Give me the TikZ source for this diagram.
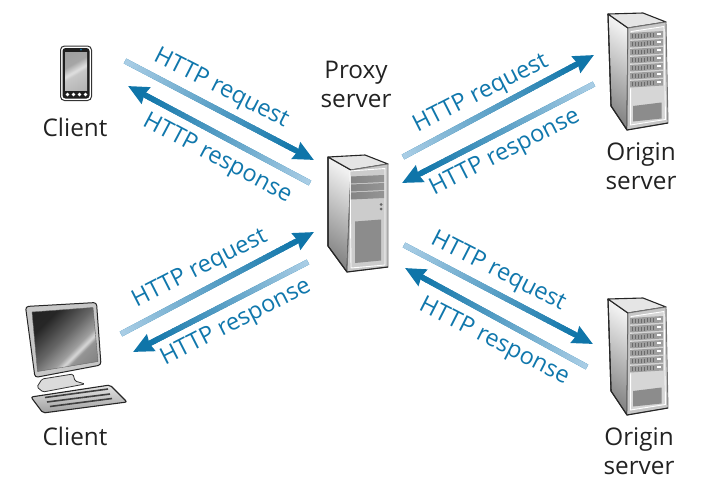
\documentclass[tikz,border=0pt]{standalone}
\usepackage{fontspec}
\setmainfont{Open Sans}
\usetikzlibrary{arrows.meta, calc}

\definecolor{flowlight}{HTML}{A9CDE5}
\definecolor{flowdark}{HTML}{0F75A9}
\definecolor{labelblue}{HTML}{1077AC}
\definecolor{textdark}{HTML}{222222}

\pgfdeclarehorizontalshading{screenglint}{100bp}{
  color(0bp)=(black!88); color(30bp)=(black!85); color(48bp)=(black!60);
  color(60bp)=(black!38); color(64bp)=(black!15); color(67bp)=(black!42); color(100bp)=(black!60)}
\pgfdeclarehorizontalshading{phoneglint}{100bp}{
  color(0bp)=(black!40); color(38bp)=(black!35); color(50bp)=(black!12);
  color(55bp)=(black!22); color(100bp)=(black!35)}

\tikzset{
  flow/.style={draw=flowdark, line width=5.5pt, -{Stealth[length=20pt, width=18pt, inset=1.5pt]}},
  flowlabel/.style={text=labelblue, font=\fontsize{23.5}{26}\selectfont, inner sep=0pt},
  hostlabel/.style={text=textdark, font=\fontsize{24.3}{29}\selectfont, align=center, inner sep=0pt},
  casing/.style={draw=black!85, line width=1.1pt, line join=round},
  sidepanel/.style={casing, left color=black!6, right color=black!48, shading angle=-35},
  toppanel/.style={casing, fill=black!10},
  frontpanel/.style={draw=black!55, line width=.9pt, line join=round, fill=black!22},
  bay/.style={left color=black!48, middle color=black!28, right color=black!42},
  % one origin server, drawn around its upper left corner
  pics/rack/.style={code={
    \path[sidepanel] (0,0) -- (20,14) -- (19,116) -- (3,92) -- cycle;
    \path[toppanel] (0,0) -- (35,-1) -- (58,8) -- (20,14) -- cycle;
    \path[frontpanel] (20,14) -- (58,8) -- (60,109) -- (19,116) -- cycle;
    \path[fill=black!16, draw=white, line width=.9pt] (23,17.5) -- (56,12.5) -- (57.5,105.5) -- (22.5,111) -- cycle;
    \foreach \r in {0,...,6} {
      \path[fill=black!38] (22,{19+\r*8}) -- (55,{17+\r*8}) -- (55,{23.5+\r*8}) -- (22,{25.5+\r*8}) -- cycle;
      \foreach \t in {24,27,...,46}
        \draw[black!58, line width=.5pt] (\t,{20.5+\r*8-(\t-22)*.06}) -- (\t,{24.5+\r*8-(\t-22)*.06});
      \path[fill=white] (49,{19+\r*8}) rectangle (53,{20.5+\r*8});
    }
    \path[fill=black!45] (25,92) -- (53.5,88.5) -- (53.5,104.5) -- (25,107.5) -- cycle;
    \draw[casing] (0,0) -- (3,92) -- (19,116) -- (60,109);
  }}
}

\newcommand{\flowline}[2]{
  \draw[flow] (#1) -- (#2);
  \foreach \i [evaluate=\i as \pct using {100-\i*2.5}] in {0,...,39}
    \draw[line width=5.5pt, draw=flowlight!\pct!flowdark]
      ($(#1)!{\i/40*0.9}!(#2)$) -- ($(#1)!{(\i+1.2)/40*0.9}!(#2)$);
}

\begin{document}
\begin{tikzpicture}[x=1pt, y=-1pt]
  \useasboundingbox (0,0) rectangle (701,490);

  % Phone
  \path[draw=black!80, line width=1pt, fill=white, rounded corners=4pt] (60.5,46) rectangle (91.5,100.5);
  \path[fill=black!88, rounded corners=3pt] (62.5,48) rectangle (89.5,98.5);
  \path[shading=phoneglint, shading angle=-60] (65,52) rectangle (87,90);
  \fill[flowdark] (81,49.5) circle (1pt);
  \foreach \k in {67.5,73.5,79.5,85.5}
    \fill[white] (\k,94.5) circle (1.8pt);

  % Desktop
  \path[draw=black!85, line width=1pt, fill=black!22, rounded corners=3pt] (25.5,306.5) -- (96.5,302.5) -- (101,365) -- (35,377.5) -- cycle;
  \path[shading=screenglint, shading angle=-45, draw=black!60] (32,312) -- (93,307.5) -- (98,361.5) -- (37.5,371.5) -- cycle;
  \path[draw=black!80, fill=black!14, line width=.8pt, rounded corners=1.5pt] (42,379) -- (73,374) -- (75,381) -- (85,384) -- (43,392) -- (37,387) -- cycle;
  \path[draw=black!85, line width=1.1pt, top color=black!10, bottom color=black!38, rounded corners=2pt] (31,397) -- (110,385) -- (127,402) -- (43,413) -- cycle;
  \draw[black!75, line width=1.6pt] (45,397.5) -- (108,389);
  \draw[black!75, line width=1.6pt] (47,402) -- (110,394);
  \draw[black!75, line width=1.6pt] (50,406.5) -- (112,398.5);

  % Proxy tower
  \path[sidepanel] (328,157) -- (351,170) -- (347,272) -- (328,246) -- cycle;
  \path[toppanel] (328,157) -- (365,155) -- (388,164) -- (351,170) -- cycle;
  \path[frontpanel] (351,170) -- (388,164) -- (388,267) -- (347,272) -- cycle;
  \path[fill=black!20, draw=white, line width=.9pt] (350,171) -- (385,168.5) -- (385,265) -- (351,268) -- cycle;
  \foreach \r in {0,...,2}
    \path[bay] (351,{176.5+\r*8}) -- (384,{175+\r*8}) -- (384,{182+\r*8}) -- (351,{183.5+\r*8}) -- cycle;
  \fill[black!60] (381,204.5) circle (1.5pt);
  \fill[black!60] (381,209) circle (1.5pt);
  \path[fill=black!45] (355,221.5) -- (381,219.5) -- (381,260.5) -- (355,263) -- cycle;
  \draw[casing] (328,157) -- (328,246) -- (347,272) -- (388,267);

  % Origin towers
  \pic at (608,14) {rack};
  \pic at (608,299) {rack};

  % Connector ends
  \coordinate (cpTail) at (125,61);
  \coordinate (cpTip) at (314,160);
  \coordinate (pcTail) at (310,183);
  \coordinate (pcTip) at (128,86);
  \coordinate (poTail) at (403,157);
  \coordinate (poTip) at (594,55);
  \coordinate (opTail) at (594,84);
  \coordinate (opTip) at (402,183);
  \coordinate (dpTail) at (121,334);
  \coordinate (dpTip) at (314,232);
  \coordinate (pdTail) at (308,262);
  \coordinate (pdTip) at (133,352);
  \coordinate (prTail) at (404,245);
  \coordinate (prTip) at (593,344);
  \coordinate (rpTail) at (587,367);
  \coordinate (rpTip) at (405,268);

  % Connectors
  \flowline{cpTail}{cpTip}
  \flowline{pcTail}{pcTip}
  \flowline{poTail}{poTip}
  \flowline{opTail}{opTip}
  \flowline{dpTail}{dpTip}
  \flowline{pdTail}{pdTip}
  \flowline{prTail}{prTip}
  \flowline{rpTail}{rpTip}

  % Flow labels
  \node[flowlabel, rotate=-27] (req1) at (221,89) {HTTP request};
  \node[flowlabel, rotate=-28] (resp1) at (217,159) {HTTP response};
  \node[flowlabel, rotate=27] (req2) at (481,94) {HTTP request};
  \node[flowlabel, rotate=27] (resp2) at (505,153) {HTTP response};
  \node[flowlabel, rotate=27] (req3) at (200,269) {HTTP request};
  \node[flowlabel, rotate=27] (resp3) at (236,323) {HTTP response};
  \node[flowlabel, rotate=-27] (req4) at (498,272) {HTTP request};
  \node[flowlabel, rotate=-27] (resp4) at (494,342) {HTTP response};

  % Host labels
  \node[hostlabel] (phone) at (75,127) {Client};
  \node[hostlabel] (desktop) at (75,436) {Client};
  \node[hostlabel] (proxy) at (356,84) {Proxy\\server};
  \node[hostlabel] (origin1) at (641,166) {Origin\\server};
  \node[hostlabel] (origin2) at (639,451) {Origin\\server};
\end{tikzpicture}
\end{document}
